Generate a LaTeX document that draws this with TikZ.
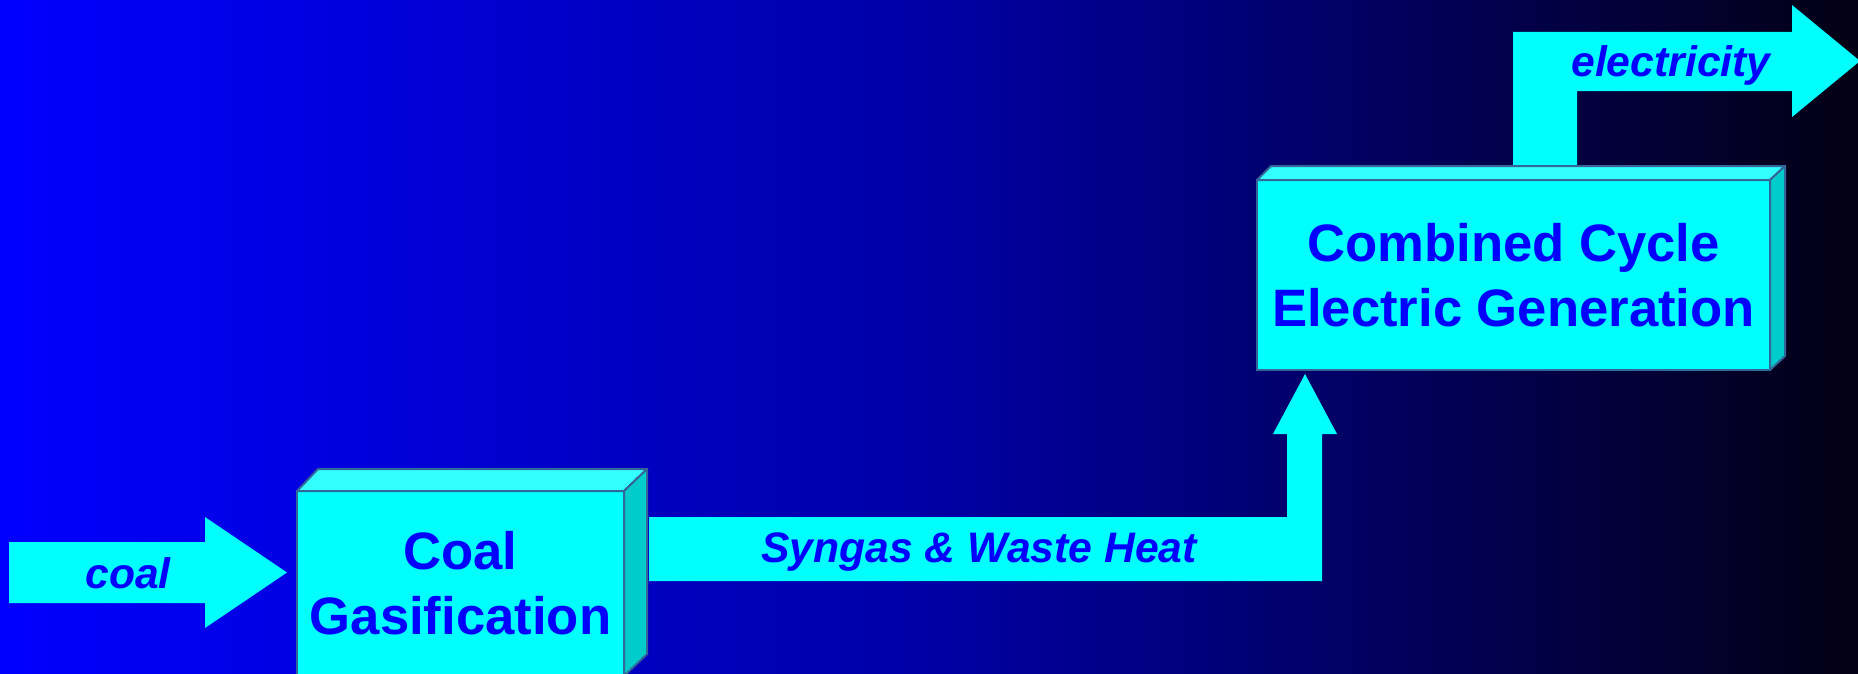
\documentclass[tikz,border=0pt]{standalone}
\usepackage{fontspec}
\setmainfont{Liberation Sans}
\usetikzlibrary{calc}

\definecolor{bgleft}{RGB}{0,0,255}
\definecolor{bgmid}{RGB}{0,0,165}
\definecolor{bgright}{RGB}{3,0,20}
\definecolor{flowcyan}{RGB}{0,255,255}
\definecolor{topcyan}{RGB}{51,255,255}
\definecolor{sidecyan}{RGB}{0,204,204}
\definecolor{edgeblue}{RGB}{51,102,153}
\definecolor{textblue}{RGB}{0,0,255}

\tikzset{every picture/.style={line width=0.75pt}}

\begin{document}
\begin{tikzpicture}[x=0.75pt,y=0.75pt,yscale=-1,xscale=1,
  unit/.style={draw=edgeblue,line width=1.5pt,fill=flowcyan,inner sep=0pt,outer sep=0pt,
    align=center,text=textblue,font=\bfseries\fontsize{39.5}{48.75}\selectfont},
  topface/.style={draw=edgeblue,line width=1.5pt,fill=topcyan,line join=round},
  sideface/.style={draw=edgeblue,line width=1.5pt,fill=sidecyan,line join=round},
  flow/.style={fill=flowcyan},
  flowlabel/.style={text=textblue,anchor=base,font=\bfseries\itshape\fontsize{32}{36}\selectfont}]
\useasboundingbox (0,0) rectangle (1858,674);

%Shape: Background
\fill [left color=bgleft,right color=bgright,middle color=bgmid] (0,0) rectangle (1858,674);
\clip (0,0) rectangle (1858,674);

%Rect: Coal Gasification
\node [unit,minimum width=327*0.75pt,minimum height=185*0.75pt] (gasifier) at (460.5,583.5) {Coal\\Gasification};
%Rect: Combined Cycle
\node [unit,minimum width=513*0.75pt,minimum height=190*0.75pt] (combined) at (1513.5,275) {Combined Cycle\\Electric Generation};

%Block Arrow: electricity out
\coordinate (elec out) at ($(combined.north west)+(256,-13)$);
\coordinate (elec tip) at (1860,61);
\fill [flow] (elec out) -- ++(0,-135) -| ($(elec tip)+(-68,-56)$) -- (elec tip) -- ++(-68,56) -- ++(0,-26) -| ($(elec out)+(64,0)$) -- cycle ;

%Block Arrow: syngas
\coordinate (syn in) at ($(gasifier.east)+(25,-34.5)$);
\coordinate (syn tip) at ($(combined.south west)+(48,4)$);
\fill [flow] ($(syn in)+(0,-32)$) -| ($(syn tip)+(-18,60)$) -- ++(-14,0) -- (syn tip) -- ++(32,60) -- ++(-15,0) |- ($(syn in)+(0,32)$) -- cycle ;

%Block Arrow: coal in
\coordinate (coal tip) at ($(gasifier.west)+(-10,-11)$);
\fill [flow] (coal tip) -- ++(-82,-55.5) -- ++(0,25) -- ++(-196,0) -- ++(0,61) -- ++(196,0) -- ++(0,25) -- cycle ;

%Faces: Coal Gasification
\draw [topface] (gasifier.north west) -- ++(21,-22) -- ($(gasifier.north east)+(23,-22)$) -- (gasifier.north east) -- cycle ;
\draw [sideface] (gasifier.north east) -- ++(23,-22) -- ($(gasifier.south east)+(23,-22)$) -- (gasifier.south east) -- cycle ;
%Faces: Combined Cycle
\draw [topface] (combined.north west) -- ++(14,-14) -- ($(combined.north east)+(15,-14)$) -- (combined.north east) -- cycle ;
\draw [sideface] (combined.north east) -- ++(15,-14) -- ($(combined.south east)+(15,-14)$) -- (combined.south east) -- cycle ;

% Text Node
\node [flowlabel] (coal lbl) at (128,588) {coal};
% Text Node
\node [flowlabel] (syn lbl) at (979,562) {Syngas \& Waste Heat};
% Text Node
\node [flowlabel] (elec lbl) at (1671,77) {electricity};

\end{tikzpicture}
\end{document}
